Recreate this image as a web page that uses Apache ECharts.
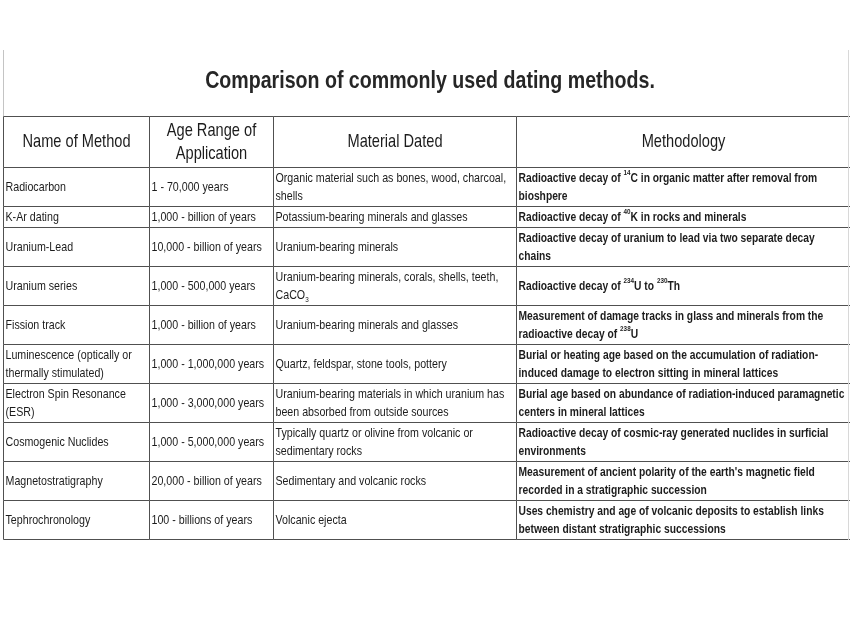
<!DOCTYPE html>
<html><head><meta charset="utf-8">
<script src="https://cdn.jsdelivr.net/npm/echarts@6/dist/echarts.min.js"></script>
<style>html,body{margin:0;padding:0;background:#fff}#c{width:850px;height:638px}</style>
</head><body><div id="c"></div>
<script>
// ---------- data ----------
const titleText = "Comparison of commonly used dating methods.";
const headers = ["Name of Method", "Age Range of\nApplication", "Material Dated", "Methodology"];
const methods = [
  "Radiocarbon",
  "K-Ar dating",
  "Uranium-Lead",
  "Uranium series",
  "Fission track",
  "Luminescence (optically or\nthermally stimulated)",
  "Electron Spin Resonance\n(ESR)",
  "Cosmogenic Nuclides",
  "Magnetostratigraphy",
  "Tephrochronology"
];
const ageRanges = [
  "1 - 70,000 years",
  "1,000 - billion of years",
  "10,000 - billion of years",
  "1,000 - 500,000 years",
  "1,000 - billion of years",
  "1,000 - 1,000,000 years",
  "1,000 - 3,000,000 years",
  "1,000 - 5,000,000 years",
  "20,000 - billion of years",
  "100 - billions of years"
];
const materials = [
  "Organic material such as bones, wood, charcoal,\nshells",
  "Potassium-bearing minerals and glasses",
  "Uranium-bearing minerals",
  "Uranium-bearing minerals, corals, shells, teeth,\nCaCO₃",
  "Uranium-bearing minerals and glasses",
  "Quartz, feldspar, stone tools, pottery",
  "Uranium-bearing materials in which uranium has\nbeen absorbed from outside sources",
  "Typically quartz or olivine from volcanic or\nsedimentary rocks",
  "Sedimentary and volcanic rocks",
  "Volcanic ejecta"
];
const methodologies = [
  "Radioactive decay of ¹⁴C in organic matter after removal from\nbioshpere",
  "Radioactive decay of ⁴⁰K in rocks and minerals",
  "Radioactive decay of uranium to lead via two separate decay\nchains",
  "Radioactive decay of ²³⁴U to ²³⁰Th",
  "Measurement of damage tracks in glass and minerals from the\nradioactive decay of ²³⁸U",
  "Burial or heating age based on the accumulation of radiation-\ninduced damage to electron sitting in mineral lattices",
  "Burial age based on abundance of radiation-induced paramagnetic\ncenters in mineral lattices",
  "Radioactive decay of cosmic-ray generated nuclides in surficial\nenvironments",
  "Measurement of ancient polarity of the earth's magnetic field\nrecorded in a stratigraphic succession",
  "Uses chemistry and age of volcanic deposits to establish links\nbetween distant stratigraphic successions"
];

// ---------- layout / style ----------
const FONT = "'Liberation Sans','Arimo',Arial,sans-serif";
const NARROW = 0.79;             // horizontal condensing (Arial Narrow look)
const colWidths = [146, 124, 243, 334];
const headerHeight = 51, lineStep = 18, rowPad = 3;
const columns = [methods, ageRanges, materials, methodologies];
const colBold = [false, false, false, true];
const TEXT_COLOR = '#1c1c1c';

const supMap = {'⁰':'0','¹':'1','²':'2','³':'3','⁴':'4','⁵':'5','⁶':'6','⁷':'7','⁸':'8','⁹':'9'};
const subMap = {'₀':'0','₁':'1','₂':'2','₃':'3','₄':'4','₅':'5','₆':'6','₇':'7','₈':'8','₉':'9'};
function toRich(s) {
  return s.replace(/[⁰¹²³⁴⁵⁶⁷⁸⁹]+/g, m => '{sup|' + [...m].map(ch => supMap[ch]).join('') + '}')
          .replace(/[₀₁₂₃₄₅₆₇₈₉]+/g, m => '{sub|' + [...m].map(ch => subMap[ch]).join('') + '}');
}

const xEdges = [0];
colWidths.forEach(w => xEdges.push(xEdges[xEdges.length - 1] + w));
const yEdges = [0, headerHeight];
methods.forEach((_, i) => {
  const lines = Math.max(...columns.map(col => col[i].split('\n').length));
  yEdges.push(yEdges[yEdges.length - 1] + lines * lineStep + rowPad);
});
const totalW = xEdges[xEdges.length - 1];
const totalH = yEdges[yEdges.length - 1];

const cells = [];
for (let r = 0; r <= methods.length; r++) {
  for (let c = 0; c < headers.length; c++) cells.push([c, r]);
}

const chart = echarts.init(document.getElementById('c'), null, {renderer: 'canvas'});
chart.setOption({
  backgroundColor: '#fff',
  animation: false,
  grid: {left: 3, top: 116, width: totalW, height: totalH},
  xAxis: {type: 'value', min: 0, max: totalW, show: false},
  yAxis: {type: 'value', min: 0, max: totalH, inverse: true, show: false},
  graphic: [
    {type: 'line', shape: {x1: 3.5, y1: 50, x2: 3.5, y2: 116}, style: {stroke: '#c4c4c4', lineWidth: 1}},
    {type: 'line', shape: {x1: 848.5, y1: 50, x2: 848.5, y2: 540}, style: {stroke: '#d8d8d8', lineWidth: 1}, z: 10},
    {type: 'text', x: 430, y: 81, scaleX: 0.8, z: 10,
     style: {text: titleText, x: 0, y: 0, align: 'center', verticalAlign: 'middle',
             textAlign: 'center', textVerticalAlign: 'middle',
             fontFamily: FONT, fontSize: 24.5, fontWeight: 'bold', fill: '#262626'}}
  ],
  series: [{
    type: 'custom',
    coordinateSystem: 'cartesian2d',
    data: cells,
    renderItem: function (params, api) {
      const c = api.value(0), r = api.value(1);
      const p0 = api.coord([xEdges[c], yEdges[r]]);
      const p1 = api.coord([xEdges[c + 1], yEdges[r + 1]]);
      const x0 = Math.round(p0[0]) + 0.5, y0 = Math.round(p0[1]) + 0.5;
      const x1 = Math.round(p1[0]) + 0.5, y1 = Math.round(p1[1]) + 0.5;
      const isHeader = r === 0;
      const txt = isHeader ? headers[c] : columns[c][r - 1];
      const bold = !isHeader && colBold[c];
      const fs = isHeader ? 18.5 : (bold ? 13 : 13.5);
      const textEl = {
        type: 'text',
        x: isHeader ? (x0 + x1) / 2 : x0 + 2,
        y: (y0 + y1) / 2,
        scaleX: NARROW,
        style: {
          text: toRich(txt),
          x: 0, y: 0,
          align: isHeader ? 'center' : 'left',
          verticalAlign: 'middle',
          fontFamily: FONT,
          fontSize: fs,
          fontWeight: bold ? 'bold' : 'normal',
          lineHeight: isHeader ? 23 : lineStep,
          fill: TEXT_COLOR,
          rich: {
            sup: {fontSize: 8, lineHeight: 14, verticalAlign: 'top', fontFamily: FONT, fontWeight: bold ? 'bold' : 'normal', fill: TEXT_COLOR},
            sub: {fontSize: 8, lineHeight: 10, verticalAlign: 'bottom', fontFamily: FONT, fill: TEXT_COLOR}
          }
        }
      };
      return {
        type: 'group',
        children: [
          {type: 'rect', shape: {x: x0, y: y0, width: x1 - x0, height: y1 - y0},
           style: {fill: '#fff', stroke: '#505050', lineWidth: 1}},
          textEl
        ]
      };
    }
  }]
});
</script>
</body></html>
